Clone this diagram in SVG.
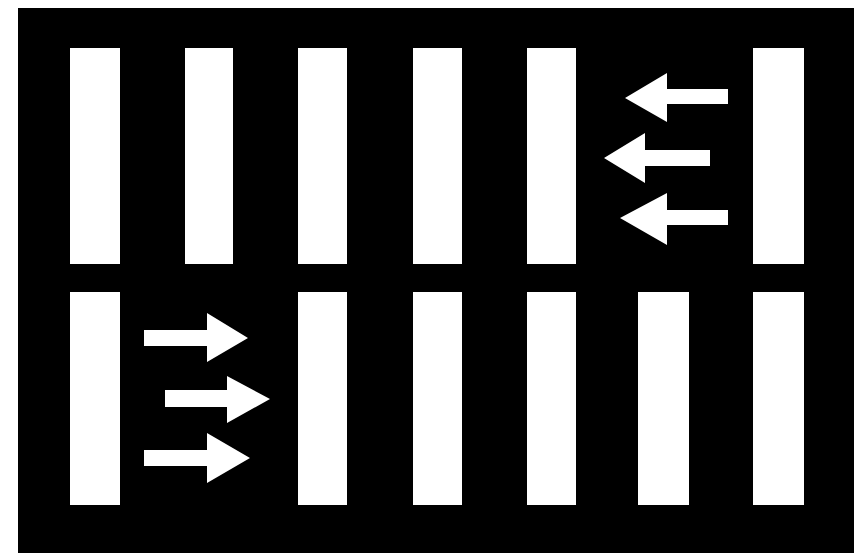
<svg xmlns="http://www.w3.org/2000/svg" width="859" height="556" viewBox="0 0 859 556">
<style>
.bg{fill:#ffffff}
.board{fill:#000000}
.bar{fill:#ffffff}
.arrow{fill:#ffffff}
</style>
<rect class="bg" x="0" y="0" width="859" height="556"/>
<rect class="board" x="18" y="8" width="836" height="545"/>
<g id="top-bars">
<rect class="bar" x="70" y="48" width="50" height="216"/>
<rect class="bar" x="185" y="48" width="48" height="216"/>
<rect class="bar" x="298" y="48" width="49" height="216"/>
<rect class="bar" x="413" y="48" width="49" height="216"/>
<rect class="bar" x="527" y="48" width="49" height="216"/>
<rect class="bar" x="753" y="48" width="51" height="216"/>
</g>
<g id="bottom-bars">
<rect class="bar" x="70" y="292" width="50" height="213"/>
<rect class="bar" x="298" y="292" width="49" height="213"/>
<rect class="bar" x="413" y="292" width="49" height="213"/>
<rect class="bar" x="527" y="292" width="49" height="213"/>
<rect class="bar" x="638" y="292" width="51" height="213"/>
<rect class="bar" x="753" y="292" width="51" height="213"/>
</g>
<g id="left-arrows">
<polygon class="arrow" points="625,98 667,73 667,89 728,89 728,104 667,104 667,122"/>
<polygon class="arrow" points="604,158 645,133 645,150 710,150 710,166 645,166 645,183"/>
<polygon class="arrow" points="620,218 667,193 667,210 728,210 728,225 667,225 667,245"/>
</g>
<g id="right-arrows">
<polygon class="arrow" points="248,338 207,313 207,330 144,330 144,346 207,346 207,362"/>
<polygon class="arrow" points="270,399 227,376 227,390 165,390 165,407 227,407 227,423"/>
<polygon class="arrow" points="250,458 207,433 207,450 144,450 144,466 207,466 207,483"/>
</g>
</svg>
